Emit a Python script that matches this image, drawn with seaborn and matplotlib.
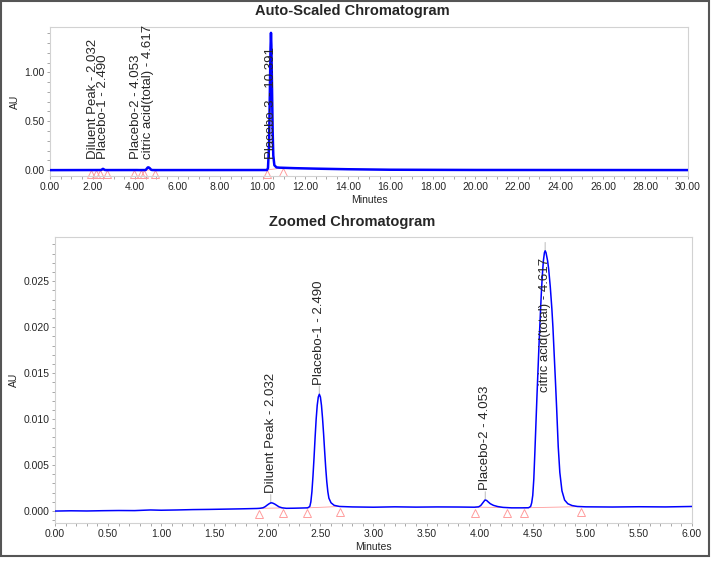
import numpy as np
import pandas as pd
import seaborn as sns
import matplotlib.pyplot as plt
import matplotlib.transforms as mtransforms
from matplotlib.patches import Rectangle
from matplotlib.ticker import MultipleLocator, FormatStrFormatter

# trace: retention time (min) and response (AU)
time_min = [0.00, 0.15, 0.30, 0.45, 0.60, 0.75, 0.90, 1.00, 1.15, 1.30, 1.45, 1.60, 1.75,
            1.90, 1.93, 1.96, 1.98, 2.00, 2.02, 2.035, 2.05, 2.07, 2.09, 2.11, 2.14, 2.18,
            2.25, 2.32, 2.38, 2.40, 2.41, 2.42, 2.43, 2.44, 2.45, 2.46, 2.47, 2.48, 2.49,
            2.50, 2.51, 2.52, 2.53, 2.54, 2.55, 2.56, 2.57, 2.58, 2.60, 2.63, 2.68, 2.80,
            3.00, 3.20, 3.40, 3.60, 3.80, 3.95, 3.99, 4.01, 4.03, 4.05, 4.065, 4.08, 4.10,
            4.13, 4.17, 4.22, 4.30, 4.40, 4.46, 4.48, 4.49, 4.50, 4.51, 4.52, 4.53, 4.54,
            4.55, 4.56, 4.57, 4.58, 4.59, 4.60, 4.61, 4.617, 4.625, 4.64, 4.65, 4.665, 4.68,
            4.69, 4.70, 4.713, 4.725, 4.74, 4.755, 4.775, 4.80, 4.83, 4.87, 4.92, 5.00, 5.25,
            5.50, 5.75, 6.00, 7.00, 8.50, 10.00, 10.20, 10.25, 10.30, 10.34, 10.37, 10.391,
            10.41, 10.44, 10.47, 10.50, 10.55, 10.65, 10.80, 11.50, 12.50, 14.00, 16.00,
            20.00, 25.00, 30.00]
au = [0.00000, 0.00003, 0.00001, 0.00004, 0.00006, 0.00005, 0.00012, 0.00009, 0.00012,
      0.00016, 0.00018, 0.00021, 0.00024, 0.00028, 0.00030, 0.00036, 0.00048, 0.00066,
      0.00082, 0.00090, 0.00087, 0.00076, 0.00061, 0.00046, 0.00035, 0.00030, 0.00031,
      0.00033, 0.00035, 0.00050, 0.00100, 0.00210, 0.00380, 0.00580, 0.00800, 0.01000,
      0.01150, 0.01240, 0.01270, 0.01240, 0.01150, 0.01010, 0.00840, 0.00650, 0.00470,
      0.00320, 0.00210, 0.00140, 0.00090, 0.00062, 0.00050, 0.00045, 0.00042, 0.00046,
      0.00043, 0.00045, 0.00044, 0.00042, 0.00046, 0.00060, 0.00090, 0.00120, 0.00116,
      0.00100, 0.00080, 0.00062, 0.00049, 0.00040, 0.00035, 0.00035, 0.00036, 0.00050,
      0.00090, 0.00170, 0.00350, 0.00640, 0.00950, 0.01260, 0.01550, 0.01840, 0.02100,
      0.02350, 0.02560, 0.02720, 0.02810, 0.02830, 0.02810, 0.02720, 0.02630, 0.02440,
      0.02200, 0.02000, 0.01750, 0.01430, 0.01120, 0.00700, 0.00420, 0.00220, 0.00120,
      0.00080, 0.00060, 0.00050, 0.00046, 0.00044, 0.00047, 0.00045, 0.00050, 0.00050,
      0.00050, 0.00050, 0.00100, 0.02000, 0.25000, 0.80000, 1.25000, 1.40500, 1.28000,
      0.85000, 0.40000, 0.15000, 0.05000, 0.02800, 0.02500, 0.02000, 0.01500, 0.00900,
      0.00400, 0.00150, 0.00080, 0.00050]

# integrated peaks
peak_names = ["Diluent Peak", "Placebo-1", "Placebo-2", "citric acid(total)", "Placebo-3"]
peak_rt = [2.032, 2.490, 4.053, 4.617, 10.391]
peak_start = [1.926, 2.372, 3.958, 4.414, 10.19]
peak_end = [2.146, 2.686, 4.257, 4.955, 10.97]

df = pd.DataFrame({"Minutes": time_min, "AU": au})

sns.set_style("white")
plt.rcParams['font.family'] = ['Liberation Sans', 'DejaVu Sans']

fig = plt.figure(figsize=(7.14, 5.61), dpi=100)
ax_top = fig.add_axes([0.070, 0.6863, 0.8936, 0.2656])
ax_bot = fig.add_axes([0.077, 0.0677, 0.8922, 0.5098])

pink = '#ff9c9c'


def style_axes(ax, xmax, xmaj, xmin_, ymaj, ymin_, yfmt):
    for sp in ax.spines.values():
        sp.set_color('#d2d2d2')
        sp.set_linewidth(0.8)
    ax.set_xlim(0, xmax)
    ax.xaxis.set_major_locator(MultipleLocator(xmaj))
    ax.xaxis.set_minor_locator(MultipleLocator(xmin_))
    ax.yaxis.set_major_locator(MultipleLocator(ymaj))
    ax.yaxis.set_minor_locator(MultipleLocator(ymin_))
    ax.xaxis.set_major_formatter(FormatStrFormatter('%.2f'))
    ax.yaxis.set_major_formatter(FormatStrFormatter(yfmt))
    ax.tick_params(which='both', direction='out', color='#a8a8a8', labelsize=7.5,
                   bottom=True, left=True, width=0.7, length=2.5, pad=1.5)
    ax.set_xlabel('Minutes', fontsize=7.5, labelpad=2.5)
    ax.set_ylabel('AU', fontsize=7.5, labelpad=3)


def draw_baselines(ax, xmax, drop):
    off = mtransforms.offset_copy(ax.transData, fig=fig, x=0, y=drop, units='points')
    for s, e in zip(peak_start, peak_end):
        if e > xmax:
            continue
        ys, ye = np.interp([s, e], time_min, au)
        ax.plot([s, e], [ys, ye], color=pink, lw=0.6, zorder=1)
        ax.plot([s, e], [ys, ye], ls='none', marker='^', ms=6, mfc='none',
                mec=pink, mew=0.7, transform=off, clip_on=False, zorder=1)


# ---- top: auto-scaled ----
sns.lineplot(data=df, x='Minutes', y='AU', ax=ax_top, color='#0000ff', lw=1.8,
             estimator=None, sort=False, zorder=3)
style_axes(ax_top, 30, 2, 0.5, 0.5, 0.1, '%.2f')
ax_top.set_ylim(-0.06, 1.465)
draw_baselines(ax_top, 30, -3)
for name, rt in zip(peak_names, peak_rt):
    ax_top.text(rt, 0.115, f"{name} - {rt:.3f}", rotation=90, ha='center', va='bottom',
                fontsize=9.5, zorder=4)

# ---- bottom: zoomed ----
sns.lineplot(data=df[df['Minutes'] <= 6], x='Minutes', y='AU', ax=ax_bot, color='#0000ff',
             lw=1.1, estimator=None, sort=False, zorder=3)
style_axes(ax_bot, 6, 0.5, 0.1, 0.005, 0.001, '%.3f')
y_lo, y_hi = -0.0013, 0.0298
ax_bot.set_ylim(y_lo, y_hi)
draw_baselines(ax_bot, 6, -4)
for name, rt in zip(peak_names, peak_rt):
    if rt > 6:
        continue
    apex = np.interp(rt, time_min, au)
    ax_bot.annotate('', xy=(rt, apex), xytext=(0, 6), textcoords='offset points',
                    arrowprops=dict(arrowstyle='-', color='#c4c4c4', lw=0.8,
                                    shrinkA=0, shrinkB=0), zorder=2)
    label = f"{name} - {rt:.3f}"
    if apex > 0.6 * y_hi:
        ax_bot.annotate(label, xy=(rt, y_hi), xytext=(0, -15), textcoords='offset points',
                        rotation=90, ha='center', va='top', fontsize=9.5, zorder=4)
    else:
        ax_bot.annotate(label, xy=(rt, apex), xytext=(0, 7), textcoords='offset points',
                        rotation=90, ha='center', va='bottom', fontsize=9.5, zorder=4)

fig.text(352.5 / 714, 1 - 11 / 561, 'Auto-Scaled Chromatogram', ha='center', va='center',
         fontsize=10.5, fontweight='bold')
fig.text(352.5 / 714, 1 - 222.3 / 561, 'Zoomed Chromatogram', ha='center', va='center',
         fontsize=10.5, fontweight='bold')

fig.patches.append(Rectangle((1 / 714, 5 / 561), 708 / 714, 555 / 561, transform=fig.transFigure,
                             fill=False, edgecolor='#555555', lw=1.5))

fig.savefig('out.png', dpi=100)
